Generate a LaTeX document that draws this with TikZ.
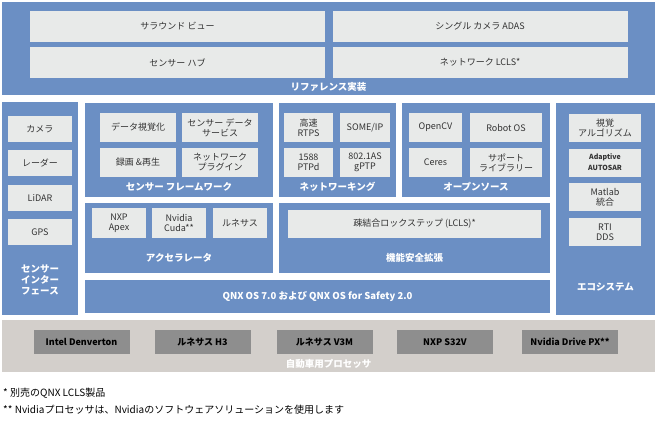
\documentclass[tikz,border=0pt]{standalone}
\usepackage{fontspec}
\setmainfont{Noto Sans CJK JP}
\usetikzlibrary{positioning}
\definecolor{qblue}{HTML}{6B8FC4}
\definecolor{qlight}{HTML}{E8EAE9}
\definecolor{qgray}{HTML}{D3CFCB}
\definecolor{qdark}{HTML}{8E8E8E}
\begin{document}
\begin{tikzpicture}[x=1pt,y=-1pt,every text node part/.style={align=center},
    font=\fontsize{9}{10}\selectfont]
		\tikzstyle{blk}=[rectangle,fill=qblue,inner sep=0pt,anchor=north west]
		\tikzstyle{lbox}=[rectangle,fill=qlight,inner sep=1pt,text=black!80]
		\tikzstyle{dbox}=[rectangle,fill=qdark,inner sep=1pt,text=black,
                  minimum width=96,minimum height=24]
		\tikzstyle{wlab}=[text=white,font=\fontsize{9.5}{11}\selectfont\bfseries]
    \useasboundingbox (0,0) rectangle (657,423);

        % blue blocks
    	\foreach \name/\x/\y/\w/\h in {ref/2/2/653/93, sif/2/102/76/213,
            sfw/85/103/188/94, net/279/103/117/94, oss/402/103/148/94,
            acc/85/203/188/70, fsx/279/203/271/70, qnx/85/280/465/33,
            eco/556/103/99/212}
       		\node[blk,minimum width=\w,minimum height=\h] (\name) at (\x,\y) {};
        \node[rectangle,fill=qgray,anchor=north west,minimum width=653,
              minimum height=52,inner sep=0pt] (proc) at (2,320) {};

        % reference implementation
     	\foreach \name/\x/\y/\txt in {surround/177.5/26/サラウンド ビュー,
            mono/480/26/シングル カメラ ADAS, hub/177.5/62.5/センサー ハブ,
            lcls/480/62.5/ネットワーク LCLS*}
       		\node[lbox,minimum width=295,minimum height=31] (\name) at (\x,\y) {\txt};
        \node[wlab] (reflab) at (328.5,87) {リファレンス実装};

        % sensor interface
     	\foreach \name/\y/\txt in {cam/129/カメラ, radar/163/レーダー,
            lidar/198/LiDAR, gps/232/GPS}
       		\node[lbox,minimum width=64,minimum height=26] (\name) at (40,\y) {\txt};
        \node[wlab] (siflab) at (40,280) {センサー\\インター\\フェース};

        % sensor framework, networking, open source
     	\foreach \name/\x/\y/\w/\txt in {viz/138/127.5/76/データ視覚化,
            sds/220/127.5/76/センサー データ\\サービス,
            rec/138/162.5/76/録画 \&再生, plug/220/162.5/76/ネットワーク\\プラグイン,
            rtps/308.5/127.5/49/高速\\RTPS, someip/365/127.5/50/{SOME/IP},
            ptpd/308.5/162.5/49/1588\\PTPd, gptp/365/162.5/50/802.1AS\\gPTP,
            ocv/435.5/127.5/53/OpenCV, ros/506/127.5/72/Robot OS,
            ceres/435.5/162.5/53/Ceres, suplib/506/162.5/72/サポート\\ライブラリー}
       		\node[lbox,minimum width=\w,minimum height=29] (\name) at (\x,\y) {\txt};
        \node[wlab] (sfwlab) at (179,187) {センサー フレームワーク};
        \node[wlab] (netlab) at (337.5,187) {ネットワーキング};
        \node[wlab] (osslab) at (476,187) {オープンソース};

        % accelerators, safety
     	\foreach \name/\x/\txt in {apex/119/NXP\\Apex, cuda/179/Nvidia\\Cuda**,
            rac/240/ルネサス}
       		\node[lbox,minimum width=54,minimum height=30] (\name) at (\x,223) {\txt};
        \node[wlab] (acclab) at (179,258) {アクセラレータ};
        \node[lbox,minimum width=253,minimum height=28] (lock) at (414.5,224) {疎結合ロックステップ (LCLS)*};
        \node[wlab] (fsxlab) at (414.5,258) {機能安全拡張};
        \node[wlab] (qnxlab) at (317.5,296.5) {QNX OS 7.0 および QNX OS for Safety 2.0};

        % ecosystem
     	\foreach \name/\y/\txt in {vis/128/視覚\\アルゴリズム,
            matlab/197/Matlab\\統合, dds/232/RTI\\DDS}
       		\node[lbox,minimum width=72,minimum height=28] (\name) at (605,\y) {\txt};
        \node[lbox,minimum width=72,minimum height=28,
              font=\fontsize{7}{11}\selectfont\bfseries] (autosar) at (605,162.5) {Adaptive\\AUTOSAR};
        \node[wlab] (ecolab) at (605.5,287) {エコシステム};

        % processors
     	\foreach \name/\x/\txt in {intel/81.5/Intel Denverton, h3/202.5/ルネサス H3,
            v3m/324.5/ルネサス V3M, s32v/445/NXP S32V, drive/570/Nvidia Drive PX**}
       		\node[dbox,font=\fontsize{9}{10}\selectfont\bfseries] (\name) at (\x,342) {\txt};
        \node[wlab] (proclab) at (328.5,364) {自動車用プロセッサ};

        \node[anchor=west,inner sep=0pt,font=\fontsize{10}{12}\selectfont] (fn1) at (3,393) {* 別売のQNX LCLS製品};
        \node[anchor=west,inner sep=0pt,font=\fontsize{10}{12}\selectfont] (fn2) at (3,410) {** Nvidiaプロセッサは、Nvidiaのソフトウェアソリューションを使用します};
	\end{tikzpicture}
\end{document}
